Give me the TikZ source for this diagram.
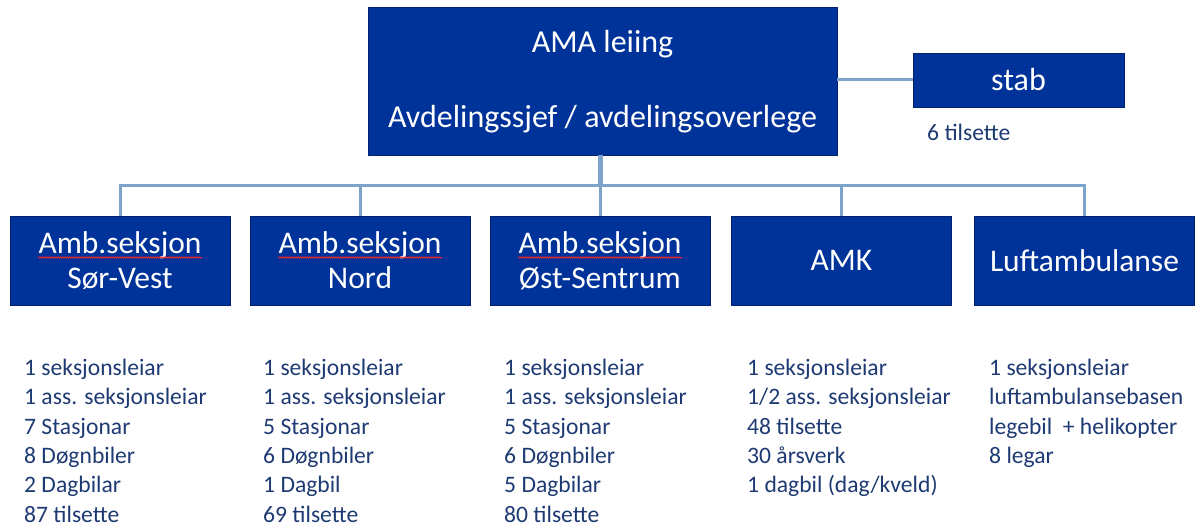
\documentclass[tikz,border=0pt]{standalone}
\usepackage{fontspec}
\setmainfont{Carlito}
\usetikzlibrary{decorations.pathmorphing}
\definecolor{boxblue}{RGB}{0,51,153}
\definecolor{boxedge}{RGB}{0,34,110}
\definecolor{linkblue}{RGB}{125,163,203}
\definecolor{txtblue}{RGB}{30,58,115}
\begin{document}
\begin{tikzpicture}[x=1pt,y=-1pt,
  orgbox/.style={draw=boxedge, line width=0.8pt, fill=boxblue, text=white, align=center, inner sep=0pt},
  bigtext/.style={text=white, inner sep=0pt, font=\fontsize{32}{38}\selectfont},
  link/.style={draw=linkblue, line width=3pt},
  listtext/.style={text=txtblue, align=left, anchor=north west, inner sep=0pt, font=\fontsize{23.6}{29.3}\selectfont},
  spell/.style={draw=red!85!white, line width=0.7pt, decorate, decoration={snake, amplitude=0.7pt, segment length=2.2pt}}]
\useasboundingbox (0,0) rectangle (1195,526);

% top box and staff box
\node[orgbox, minimum width=469pt, minimum height=148pt] (top) at (602.5,81) {};
\node[bigtext, anchor=base] (lead) at (602.5,53) {AMA leiing};
\node[bigtext, anchor=base] (leadsub) at (602.5,128) {Avdelingssjef / avdelingsoverlege};
\node[orgbox, minimum width=211pt, minimum height=54pt, font=\fontsize{32}{38}\selectfont] (stab) at (1018.5,80) {stab};
\node[text=txtblue, inner sep=0pt, anchor=base west, font=\fontsize{23.6}{28}\selectfont] (stabn) at (927,141) {6 tilsette};

% section boxes
\begin{scope}[every node/.append style={orgbox, minimum width=220pt, minimum height=89pt, font=\fontsize{31.5}{35}\selectfont}]
\node (b1) at (120,260.5) {Amb.seksjon\\Sør-Vest};
\node (b2) at (360,260.5) {Amb.seksjon\\Nord};
\node (b3) at (600,260.5) {Amb.seksjon\\Øst-Sentrum};
\node (b4) at (841.5,260.5) {AMK};
\node (b5) at (1084.5,260.5) {Luftambulanse};
\end{scope}

% spelling marks
\foreach \b in {b1,b2,b3} \draw[spell] (\b.center) ++(-82,-3) -- ++(164,0);

% connectors
\coordinate (bar) at (600,186);
\draw[link, line width=5pt] (bar |- top.south) -- (bar);
\foreach \b in {b1,b2,b3,b4,b5} \draw[link] (bar) -| (\b.north);
\draw[link] (top.east |- stab.west) -- (stab.west);

% lists
\node[listtext] (l1) at (24,359) {1 seksjonsleiar\\1 ass. seksjonsleiar\\7 Stasjonar\\8 Døgnbiler\\2 Dagbilar\\87 tilsette};
\node[listtext] (l2) at (263,359) {1 seksjonsleiar\\1 ass. seksjonsleiar\\5 Stasjonar\\6 Døgnbiler\\1 Dagbil\\69 tilsette};
\node[listtext] (l3) at (504,359) {1 seksjonsleiar\\1 ass. seksjonsleiar\\5 Stasjonar\\6 Døgnbiler\\5 Dagbilar\\80 tilsette};
\node[listtext] (l4) at (747,359) {1 seksjonsleiar\\1/2 ass. seksjonsleiar\\48 tilsette\\30 årsverk\\1 dagbil (dag/kveld)};
\node[listtext] (l5) at (989,359) {1 seksjonsleiar\\luftambulansebasen\\legebil\ \ + helikopter\\8 legar};
\end{tikzpicture}
\end{document}
